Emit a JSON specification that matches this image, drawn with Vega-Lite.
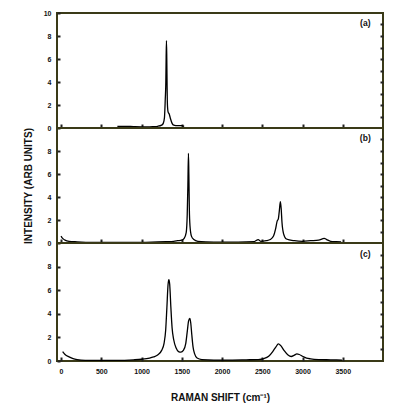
{
  "$schema": "https://vega.github.io/schema/vega-lite/v6.json",
  "padding": {"left": 22, "top": 8, "right": 10, "bottom": 6},
  "background": "white",
  "bounds": "flush",
  "spacing": 0,
  "config": {
    "view": {"stroke": "#3a3a18", "strokeWidth": 2},
    "font": "Liberation Sans",
    "axis": {
      "labelFont": "Liberation Sans", "labelFontWeight": "bold", "labelFontSize": 7, "labelColor": "#111",
      "titleFont": "Liberation Sans", "titleFontWeight": "bold", "titleFontSize": 10, "titleColor": "#111",
      "domain": false, "grid": false, "tickColor": "#222", "tickWidth": 2, "format": "d"
    }
  },
  "datasets": {
    "a": [
      {"x": 700, "y": 0.15}, {"x": 800, "y": 0.15}, {"x": 900, "y": 0.12}, {"x": 1000, "y": 0.1},
      {"x": 1100, "y": 0.1}, {"x": 1150, "y": 0.12}, {"x": 1200, "y": 0.15}, {"x": 1250, "y": 0.25},
      {"x": 1270, "y": 0.4}, {"x": 1285, "y": 0.9}, {"x": 1295, "y": 2.5}, {"x": 1302, "y": 4.0},
      {"x": 1306, "y": 6.2}, {"x": 1310, "y": 7.6}, {"x": 1314, "y": 6.0}, {"x": 1318, "y": 3.5},
      {"x": 1322, "y": 2.0}, {"x": 1330, "y": 1.4}, {"x": 1345, "y": 1.2}, {"x": 1360, "y": 0.8},
      {"x": 1380, "y": 0.4}, {"x": 1400, "y": 0.25}, {"x": 1450, "y": 0.2}, {"x": 1500, "y": 0.2},
      {"x": 1530, "y": 0.15}
    ],
    "b": [
      {"x": 0, "y": 0.6}, {"x": 20, "y": 0.4}, {"x": 50, "y": 0.25}, {"x": 100, "y": 0.15},
      {"x": 200, "y": 0.1}, {"x": 400, "y": 0.05}, {"x": 600, "y": 0.05}, {"x": 800, "y": 0.05},
      {"x": 1000, "y": 0.05}, {"x": 1200, "y": 0.1}, {"x": 1300, "y": 0.12}, {"x": 1400, "y": 0.15},
      {"x": 1450, "y": 0.2}, {"x": 1500, "y": 0.25}, {"x": 1530, "y": 0.4}, {"x": 1555, "y": 0.9},
      {"x": 1568, "y": 2.5}, {"x": 1576, "y": 5.0}, {"x": 1583, "y": 7.8}, {"x": 1588, "y": 6.0},
      {"x": 1594, "y": 3.0}, {"x": 1602, "y": 1.5}, {"x": 1620, "y": 0.6}, {"x": 1650, "y": 0.3},
      {"x": 1700, "y": 0.15}, {"x": 1800, "y": 0.1}, {"x": 2000, "y": 0.08}, {"x": 2200, "y": 0.08},
      {"x": 2400, "y": 0.12}, {"x": 2450, "y": 0.3}, {"x": 2480, "y": 0.15}, {"x": 2550, "y": 0.2},
      {"x": 2600, "y": 0.3}, {"x": 2640, "y": 0.6}, {"x": 2665, "y": 1.2}, {"x": 2685, "y": 1.9},
      {"x": 2700, "y": 2.1}, {"x": 2712, "y": 2.8}, {"x": 2725, "y": 3.6}, {"x": 2735, "y": 3.0},
      {"x": 2745, "y": 1.8}, {"x": 2765, "y": 0.8}, {"x": 2800, "y": 0.35}, {"x": 2900, "y": 0.2},
      {"x": 3000, "y": 0.15}, {"x": 3100, "y": 0.2}, {"x": 3200, "y": 0.25}, {"x": 3270, "y": 0.4},
      {"x": 3300, "y": 0.3}, {"x": 3350, "y": 0.15}, {"x": 3420, "y": 0.12}, {"x": 3480, "y": 0.1}
    ],
    "c": [
      {"x": 20, "y": 0.8}, {"x": 50, "y": 0.55}, {"x": 100, "y": 0.35}, {"x": 150, "y": 0.2},
      {"x": 200, "y": 0.12}, {"x": 300, "y": 0.06}, {"x": 500, "y": 0.05}, {"x": 700, "y": 0.05},
      {"x": 900, "y": 0.1}, {"x": 1000, "y": 0.15}, {"x": 1100, "y": 0.25}, {"x": 1150, "y": 0.35},
      {"x": 1200, "y": 0.5}, {"x": 1250, "y": 0.9}, {"x": 1280, "y": 1.5}, {"x": 1300, "y": 2.6},
      {"x": 1315, "y": 4.5}, {"x": 1330, "y": 6.5}, {"x": 1340, "y": 6.9}, {"x": 1350, "y": 6.5},
      {"x": 1365, "y": 4.5}, {"x": 1380, "y": 2.8}, {"x": 1400, "y": 1.8}, {"x": 1430, "y": 1.1},
      {"x": 1460, "y": 0.8}, {"x": 1490, "y": 0.75}, {"x": 1520, "y": 0.9}, {"x": 1550, "y": 1.5},
      {"x": 1570, "y": 2.6}, {"x": 1585, "y": 3.4}, {"x": 1600, "y": 3.6}, {"x": 1612, "y": 3.2},
      {"x": 1625, "y": 2.2}, {"x": 1640, "y": 1.2}, {"x": 1660, "y": 0.6}, {"x": 1690, "y": 0.25},
      {"x": 1750, "y": 0.12}, {"x": 1900, "y": 0.08}, {"x": 2100, "y": 0.08}, {"x": 2300, "y": 0.1},
      {"x": 2450, "y": 0.12}, {"x": 2520, "y": 0.2}, {"x": 2580, "y": 0.4}, {"x": 2630, "y": 0.8},
      {"x": 2670, "y": 1.2}, {"x": 2700, "y": 1.45}, {"x": 2730, "y": 1.3}, {"x": 2770, "y": 0.9},
      {"x": 2820, "y": 0.5}, {"x": 2860, "y": 0.38}, {"x": 2900, "y": 0.5}, {"x": 2930, "y": 0.6},
      {"x": 2960, "y": 0.55}, {"x": 3000, "y": 0.4}, {"x": 3050, "y": 0.25}, {"x": 3100, "y": 0.18},
      {"x": 3200, "y": 0.12}, {"x": 3350, "y": 0.1}, {"x": 3490, "y": 0.08}
    ]
  },
  "vconcat": [
    {
      "width": 326, "height": 115,
      "resolve": {"axis": {"x": "independent", "y": "independent"}},
      "layer": [
        {
          "data": {"name": "a"},
          "mark": {"type": "line", "color": "black", "strokeWidth": 1.3, "interpolate": "monotone"},
          "encoding": {
            "x": {"field": "x", "type": "quantitative", "scale": {"domain": [-50, 4000], "nice": false},
                  "axis": {"values": [0, 500, 1000, 1500, 2000, 2500, 3000, 3500], "labels": false, "tickSize": -4, "title": null}},
            "y": {"field": "y", "type": "quantitative", "scale": {"domain": [0, 10], "nice": false},
                  "axis": {"values": [0, 2, 4, 6, 8, 10], "tickSize": -3, "labelPadding": 9, "title": null}}
          }
        },
        {
          "data": {"values": [{"label": "(a)"}]},
          "mark": {"type": "text", "font": "Liberation Sans", "fontWeight": "bold", "fontSize": 8.5, "color": "#111"},
          "encoding": {
            "text": {"field": "label"},
            "x": {"datum": 3780, "type": "quantitative", "axis": null},
            "y": {"datum": 9.1, "type": "quantitative",
                  "axis": {"orient": "right", "values": [1, 2, 3, 4, 5, 6, 7, 8, 9], "labels": false, "tickSize": -3, "title": null}}
          }
        }
      ]
    },
    {
      "width": 326, "height": 115,
      "resolve": {"axis": {"x": "independent", "y": "independent"}},
      "layer": [
        {
          "data": {"name": "b"},
          "mark": {"type": "line", "color": "black", "strokeWidth": 1.3, "interpolate": "monotone"},
          "encoding": {
            "x": {"field": "x", "type": "quantitative", "scale": {"domain": [-50, 4000], "nice": false},
                  "axis": {"values": [0, 500, 1000, 1500, 2000, 2500, 3000, 3500], "labels": false, "tickSize": -4, "title": null}},
            "y": {"field": "y", "type": "quantitative", "scale": {"domain": [0, 10], "nice": false},
                  "axis": {"values": [0, 2, 4, 6, 8], "tickSize": -3, "labelPadding": 9, "title": "INTENSITY (ARB UNITS)", "titlePadding": 14}}
          }
        },
        {
          "data": {"values": [{"label": "(b)"}]},
          "mark": {"type": "text", "font": "Liberation Sans", "fontWeight": "bold", "fontSize": 8.5, "color": "#111"},
          "encoding": {
            "text": {"field": "label"},
            "x": {"datum": 3780, "type": "quantitative", "axis": null},
            "y": {"datum": 9.1, "type": "quantitative",
                  "axis": {"orient": "right", "values": [1, 2, 3, 4, 5, 6, 7, 8, 9], "labels": false, "tickSize": -3, "title": null}}
          }
        }
      ]
    },
    {
      "width": 326, "height": 118,
      "resolve": {"axis": {"x": "independent", "y": "independent"}},
      "layer": [
        {
          "data": {"name": "c"},
          "mark": {"type": "line", "color": "black", "strokeWidth": 1.3, "interpolate": "monotone"},
          "encoding": {
            "x": {"field": "x", "type": "quantitative", "scale": {"domain": [-50, 4000], "nice": false},
                  "axis": {"values": [0, 500, 1000, 1500, 2000, 2500, 3000, 3500], "tickSize": -4, "labelPadding": 10, "title": "RAMAN SHIFT (cm⁻¹)", "titlePadding": 18}},
            "y": {"field": "y", "type": "quantitative", "scale": {"domain": [0, 10], "nice": false},
                  "axis": {"values": [0, 2, 4, 6, 8], "tickSize": -3, "labelPadding": 9, "title": null}}
          }
        },
        {
          "data": {"values": [{"label": "(c)"}]},
          "mark": {"type": "text", "font": "Liberation Sans", "fontWeight": "bold", "fontSize": 8.5, "color": "#111"},
          "encoding": {
            "text": {"field": "label"},
            "x": {"datum": 3780, "type": "quantitative", "axis": null},
            "y": {"datum": 9.1, "type": "quantitative",
                  "axis": {"orient": "right", "values": [1, 2, 3, 4, 5, 6, 7, 8, 9], "labels": false, "tickSize": -3, "title": null}}
          }
        }
      ]
    }
  ]
}
